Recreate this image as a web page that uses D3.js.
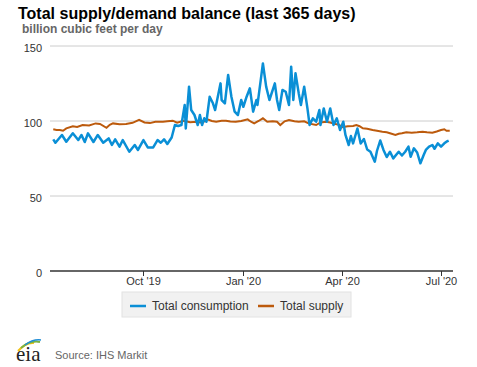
<!DOCTYPE html>
<html lang="en">
<head>
    <meta charset="UTF-8">
    <title>Total supply/demand balance</title>
    <script src="https://d3js.org/d3.v7.min.js"></script>
    <style>
        body { margin: 0; background: #fff; }
        svg { font-family: "Liberation Sans", Arial, sans-serif; }
        .grid line { stroke: #cccccc; stroke-width: 1; }
        .tick-label { font-size: 11px; fill: #333; }
        .legend-label { font-size: 12px; fill: #333; }
    </style>
</head>
<body>
    <svg width="477" height="367"></svg>

    <script>
        // Daily readings taken off the chart (bcf/d)
        const consumptionDates = [
            "2019-07-10", "2019-07-12", "2019-07-18", "2019-07-22", "2019-07-28", "2019-08-02", "2019-08-05",
            "2019-08-08", "2019-08-11", "2019-08-16", "2019-08-20", "2019-08-25", "2019-08-30", "2019-09-02",
            "2019-09-05", "2019-09-09", "2019-09-12", "2019-09-18", "2019-09-23", "2019-09-26", "2019-10-01",
            "2019-10-05", "2019-10-10", "2019-10-14", "2019-10-17", "2019-10-20", "2019-10-23", "2019-10-27",
            "2019-10-30", "2019-11-02", "2019-11-05", "2019-11-08", "2019-11-09", "2019-11-12", "2019-11-14",
            "2019-11-17", "2019-11-20", "2019-11-22", "2019-11-24", "2019-11-26", "2019-11-28", "2019-12-01",
            "2019-12-04", "2019-12-06", "2019-12-11", "2019-12-12", "2019-12-15", "2019-12-18", "2019-12-21",
            "2019-12-24", "2019-12-27", "2019-12-30", "2020-01-01", "2020-01-04", "2020-01-07", "2020-01-10",
            "2020-01-13", "2020-01-14", "2020-01-17", "2020-01-19", "2020-01-22", "2020-01-25", "2020-01-30",
            "2020-02-01", "2020-02-03", "2020-02-06", "2020-02-09", "2020-02-12", "2020-02-14", "2020-02-16",
            "2020-02-18", "2020-02-21", "2020-02-23", "2020-02-26", "2020-02-29", "2020-03-02", "2020-03-05",
            "2020-03-08", "2020-03-11", "2020-03-12", "2020-03-15", "2020-03-18", "2020-03-21", "2020-03-24",
            "2020-03-27", "2020-03-30", "2020-04-02", "2020-04-04", "2020-04-07", "2020-04-09", "2020-04-11",
            "2020-04-15", "2020-04-18", "2020-04-21", "2020-04-24", "2020-04-27", "2020-05-01", "2020-05-03",
            "2020-05-06", "2020-05-09", "2020-05-12", "2020-05-15", "2020-05-18", "2020-05-23", "2020-05-26",
            "2020-05-29", "2020-06-01", "2020-06-03", "2020-06-06", "2020-06-09", "2020-06-12", "2020-06-15",
            "2020-06-17", "2020-06-20", "2020-06-23", "2020-06-25", "2020-06-28", "2020-07-01", "2020-07-04",
            "2020-07-06", "2020-07-08"
        ];
        const consumptionValues = [
            87.8, 85.5, 90.7, 86.2, 91.8, 87.3, 90.7,
            86.0, 91.8, 86.0, 90.7, 85.5, 88.4, 84.0,
            87.8, 82.9, 87.3, 79.5, 84.0, 80.7, 87.3,
            82.4, 82.4, 87.3, 85.5, 87.8, 84.7, 89.0,
            97.3, 96.7, 97.3, 110.7, 95.0, 122.9, 107.3,
            104.0, 97.3, 104.0, 97.3, 101.8, 99.5, 116.2,
            111.8, 107.3, 125.1, 114.0, 111.8, 130.7, 116.2,
            106.2, 104.0, 114.0, 109.5, 116.2, 121.8, 106.2,
            114.0, 110.7, 127.3, 138.4, 122.9, 114.0, 125.1,
            114.0, 107.3, 120.7, 119.5, 110.7, 136.2, 114.0,
            131.8, 118.4, 110.7, 122.9, 108.4, 97.3, 101.8,
            99.5, 107.3, 97.3, 108.4, 99.5, 108.4, 97.3,
            101.8, 94.0, 99.5, 90.7, 84.0, 90.0, 85.1,
            95.0, 85.0, 88.0, 81.0, 79.5, 72.9, 80.0,
            87.0, 80.7, 76.0, 79.5, 75.1, 79.5, 77.0,
            79.5, 82.9, 76.2, 81.8, 79.0, 71.8, 77.3,
            80.7, 82.9, 84.0, 81.5, 85.1, 82.9, 85.1,
            86.2, 86.9
        ];

        const supplyDates = [
            "2019-07-10", "2019-07-13", "2019-07-16", "2019-07-19", "2019-07-22", "2019-07-28", "2019-08-01",
            "2019-08-06", "2019-08-12", "2019-08-18", "2019-08-22", "2019-08-28", "2019-08-31", "2019-09-03",
            "2019-09-09", "2019-09-15", "2019-09-21", "2019-09-27", "2019-10-02", "2019-10-07", "2019-10-12",
            "2019-10-19", "2019-10-23", "2019-10-28", "2019-11-01", "2019-11-07", "2019-11-13", "2019-11-19",
            "2019-11-24", "2019-11-29", "2019-12-03", "2019-12-07", "2019-12-12", "2019-12-16", "2019-12-20",
            "2019-12-25", "2019-12-30", "2020-01-05", "2020-01-08", "2020-01-11", "2020-01-15", "2020-01-19",
            "2020-01-23", "2020-01-28", "2020-02-01", "2020-02-04", "2020-02-08", "2020-02-12", "2020-02-17",
            "2020-02-21", "2020-02-26", "2020-03-01", "2020-03-08", "2020-03-12", "2020-03-17", "2020-03-21",
            "2020-03-26", "2020-03-29", "2020-04-01", "2020-04-06", "2020-04-11", "2020-04-14", "2020-04-17",
            "2020-04-20", "2020-04-24", "2020-04-29", "2020-05-03", "2020-05-08", "2020-05-12", "2020-05-15",
            "2020-05-20", "2020-05-23", "2020-05-26", "2020-05-30", "2020-06-04", "2020-06-09", "2020-06-14",
            "2020-06-18", "2020-06-23", "2020-06-27", "2020-07-01", "2020-07-04", "2020-07-06", "2020-07-09"
        ];
        const supplyValues = [
            94.5, 94.0, 94.0, 93.5, 95.1, 96.5, 96.0,
            97.3, 97.0, 98.4, 98.0, 95.5, 97.5, 98.4,
            97.8, 98.0, 98.8, 100.7, 99.0, 98.6, 99.5,
            99.5, 99.8, 100.2, 98.9, 100.2, 99.2, 99.5,
            98.8, 101.1, 100.0, 99.5, 100.2, 100.2, 99.6,
            99.5, 100.0, 101.1, 99.5, 98.4, 100.0, 101.8,
            99.5, 99.8, 99.5, 97.3, 99.8, 100.7, 99.8,
            99.5, 99.8, 98.4, 97.3, 99.0, 99.5, 99.0,
            98.0, 97.5, 95.8, 96.5, 96.7, 97.3, 96.5,
            95.1, 94.8, 94.0, 93.5, 92.9, 92.5, 91.8,
            90.7, 91.5, 91.8, 92.5, 92.2, 92.5, 92.9,
            92.5, 92.2, 93.0, 94.0, 94.5, 93.5, 93.5
        ];

        const seriesNames = ["Total consumption", "Total supply"];
        const seriesColors = ["#0a8fd6", "#bc5a0c"];
        const yTicks = [0, 50, 100, 150];
        const xTickDates = ["2019-10-01", "2020-01-01", "2020-04-01", "2020-07-01"];

        const parse = d3.timeParse("%Y-%m-%d");
        const consumption = consumptionDates.map((d, i) => ({ date: parse(d), value: consumptionValues[i] }));
        const supply = supplyDates.map((d, i) => ({ date: parse(d), value: supplyValues[i] }));

        const svg = d3.select("svg");
        const plotLeft = 50, plotRight = 453, plotTop = 46, plotBottom = 271;

        const x = d3.scaleTime()
            .domain([parse("2019-07-07"), parse("2020-07-12")])
            .range([plotLeft, plotRight]);
        const y = d3.scaleLinear()
            .domain([0, 150])
            .range([plotBottom, plotTop]);

        // Title and units
        svg.append("text")
            .attr("x", 18).attr("y", 19)
            .attr("font-size", 16).attr("font-weight", "bold").attr("fill", "#000")
            .text("Total supply/demand balance (last 365 days)");
        svg.append("text")
            .attr("x", 22).attr("y", 33)
            .attr("font-size", 12).attr("font-weight", "bold").attr("fill", "#666")
            .text("billion cubic feet per day");

        // Gridlines
        svg.append("g").attr("class", "grid")
            .selectAll("line")
            .data(yTicks.filter(t => t > 0))
            .enter().append("line")
            .attr("x1", plotLeft).attr("x2", plotRight)
            .attr("y1", d => y(d)).attr("y2", d => y(d));

        svg.append("g")
            .selectAll("text")
            .data(yTicks)
            .enter().append("text")
            .attr("class", "tick-label")
            .attr("x", 42).attr("y", d => y(d) + 6)
            .attr("text-anchor", "end")
            .text(d => d);

        // x axis
        const xAxis = svg.append("g");
        xAxis.append("line")
            .attr("x1", plotLeft).attr("x2", plotRight)
            .attr("y1", plotBottom).attr("y2", plotBottom)
            .attr("stroke", "#333").attr("stroke-width", 1.5);
        const xt = xAxis.selectAll(".xt")
            .data(xTickDates.map(parse))
            .enter().append("g")
            .attr("transform", d => `translate(${Math.round(x(d)) + 0.5},0)`);
        xt.append("line")
            .attr("y1", plotBottom).attr("y2", plotBottom + 5)
            .attr("stroke", "#333");
        xt.append("text")
            .attr("class", "tick-label")
            .attr("y", 285)
            .attr("text-anchor", "middle")
            .text(d => d3.timeFormat("%b '%y")(d));

        // Lines
        const line = d3.line()
            .x(d => x(d.date))
            .y(d => y(d.value));

        svg.append("path")
            .datum(supply)
            .attr("fill", "none")
            .attr("stroke", seriesColors[1])
            .attr("stroke-width", 2)
            .attr("d", line);

        svg.append("path")
            .datum(consumption)
            .attr("fill", "none")
            .attr("stroke", seriesColors[0])
            .attr("stroke-width", 2.5)
            .attr("stroke-linejoin", "round")
            .attr("d", line);

        // Legend
        const legend = svg.append("g");
        legend.append("rect")
            .attr("x", 122).attr("y", 292)
            .attr("width", 229).attr("height", 25)
            .attr("fill", "#f1f1f1").attr("stroke", "#e2e2e2");
        const legendX = [130, 258];
        seriesNames.forEach((name, i) => {
            legend.append("line")
                .attr("x1", legendX[i]).attr("x2", legendX[i] + 16)
                .attr("y1", 306).attr("y2", 306)
                .attr("stroke", seriesColors[i]).attr("stroke-width", 2.5);
            legend.append("text")
                .attr("class", "legend-label")
                .attr("x", legendX[i] + 22).attr("y", 310)
                .text(name);
        });

        // eia logo and source
        const logo = svg.append("g");
        logo.append("path")
            .attr("d", "M18,351 Q26,342 34,343")
            .attr("fill", "none").attr("stroke", "#f2c318").attr("stroke-width", 2);
        logo.append("path")
            .attr("d", "M21,348 Q30,340 40,342")
            .attr("fill", "none").attr("stroke", "#7bb342").attr("stroke-width", 2);
        logo.append("path")
            .attr("d", "M25,345 Q33,339 41,340")
            .attr("fill", "none").attr("stroke", "#1f8dd6").attr("stroke-width", 1.5);
        logo.append("text")
            .attr("x", 16).attr("y", 361)
            .attr("font-family", "'Liberation Serif', serif")
            .attr("font-size", 21).attr("fill", "#222")
            .text("eia");

        svg.append("text")
            .attr("x", 55).attr("y", 359)
            .attr("font-size", 11).attr("fill", "#666")
            .text("Source: IHS Markit");
    </script>
</body>
</html>
